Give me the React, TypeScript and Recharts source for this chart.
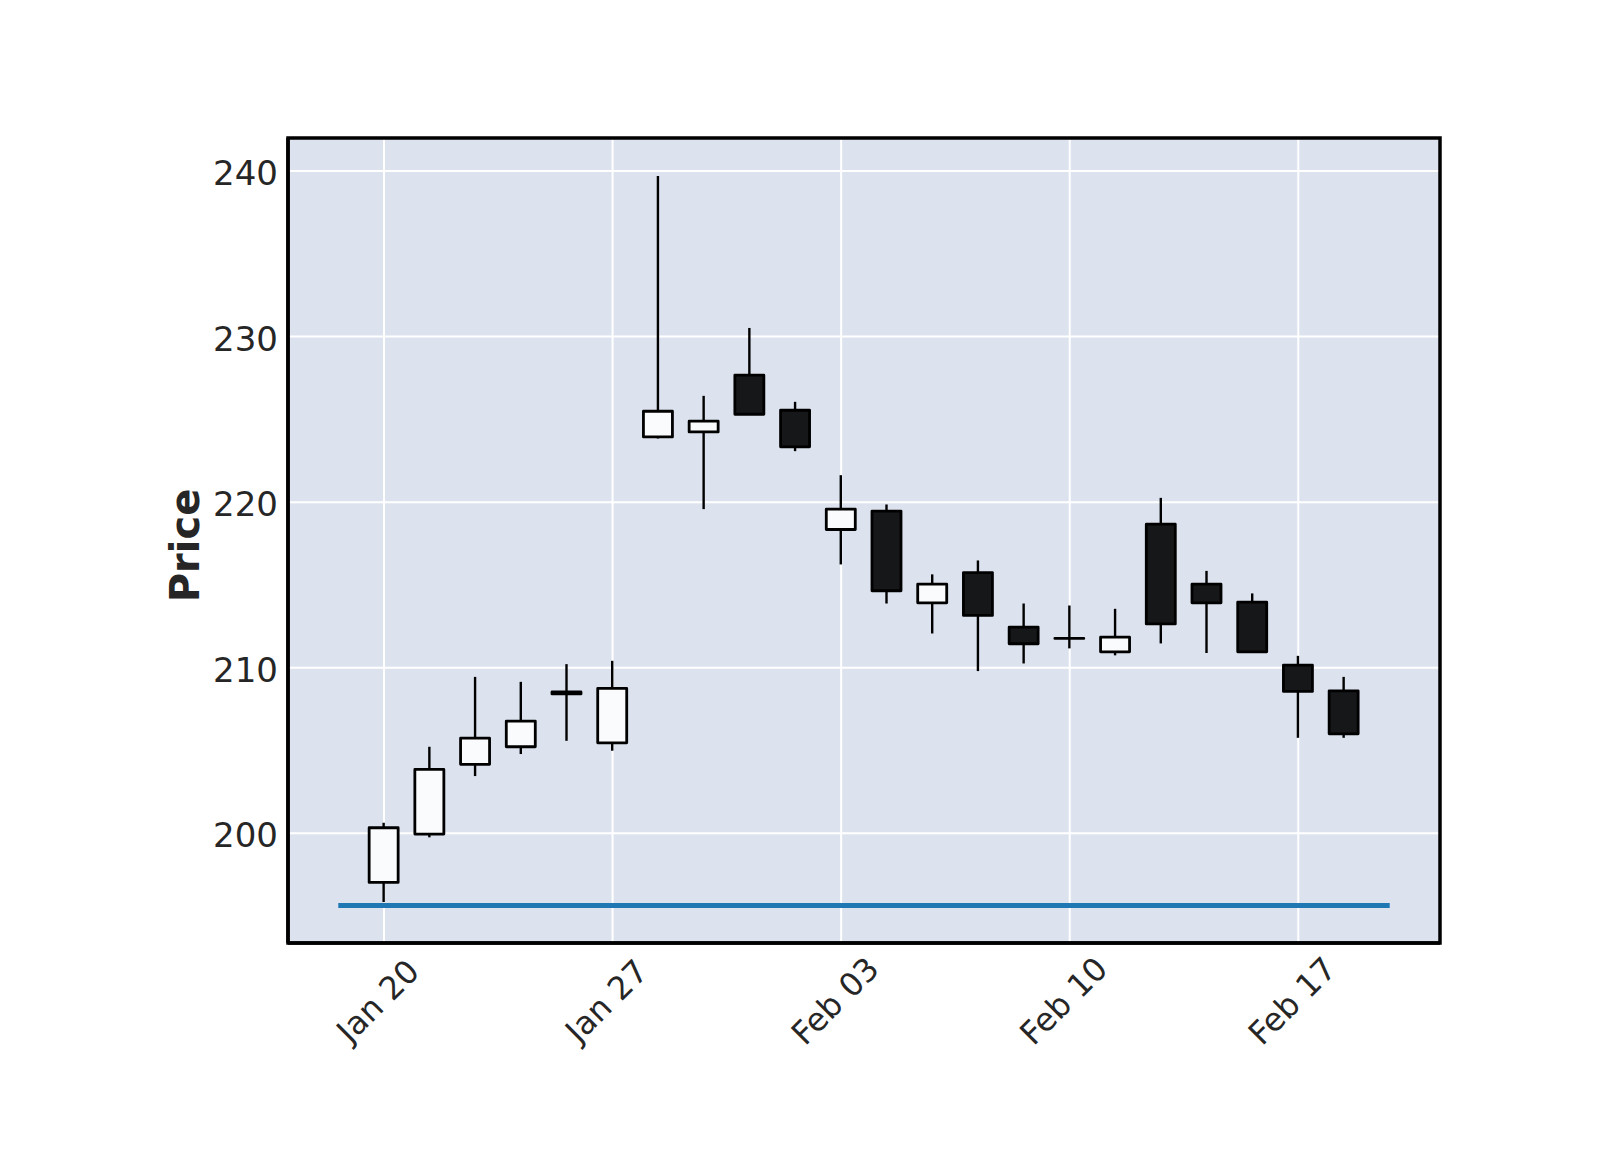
import React from 'react';
import { ComposedChart, Bar, Line, XAxis, YAxis, CartesianGrid, ReferenceArea } from 'recharts';

// Trading days shown
const dates = [
  '2025-01-20', '2025-01-21', '2025-01-22', '2025-01-23', '2025-01-24',
  '2025-01-27', '2025-01-28', '2025-01-29', '2025-01-30', '2025-01-31',
  '2025-02-03', '2025-02-04', '2025-02-05', '2025-02-06', '2025-02-07',
  '2025-02-10', '2025-02-11', '2025-02-12', '2025-02-13', '2025-02-14',
  '2025-02-17', '2025-02-18',
];
const opens = [197.04, 199.96, 204.17, 205.23, 208.54, 205.47, 223.94, 224.24, 227.67, 225.55, 218.35, 219.46, 213.92, 215.75, 212.45, 211.77, 210.96, 218.67, 215.05, 213.96, 210.16, 208.61];
const highs = [200.64, 205.23, 209.45, 209.15, 210.22, 210.42, 239.70, 226.42, 230.52, 226.06, 221.63, 219.86, 215.64, 216.48, 213.88, 213.76, 213.56, 220.26, 215.85, 214.49, 210.72, 209.45];
const lows = [195.85, 199.76, 203.46, 204.79, 205.59, 204.99, 223.84, 219.58, 225.30, 223.08, 216.24, 213.88, 212.07, 209.80, 210.26, 211.17, 210.75, 211.47, 210.89, 210.96, 205.77, 205.77];
const closes = [200.34, 203.86, 205.75, 206.78, 208.42, 208.75, 225.49, 224.89, 225.31, 223.34, 219.58, 214.65, 215.05, 213.16, 211.45, 211.77, 211.85, 212.65, 213.92, 210.96, 208.57, 206.01];

// X ticks (trading-day index) and their labels
const xTickIndex = [0, 5, 10, 15, 20];
const xTickLabels = ['Jan 20', 'Jan 27', 'Feb 03', 'Feb 10', 'Feb 17'];
const yTicks = [200, 210, 220, 230, 240];

// Horizontal blue line
const hlineX = [-1, 22];
const hlineY = [195.64, 195.64];

const xDomain = [-2.1, 23.1];
const yDomain = [193.38, 241.99];

const data = dates.map((d, i) => ({
  idx: i,
  date: d,
  open: opens[i],
  high: highs[i],
  low: lows[i],
  close: closes[i],
  range: [lows[i], highs[i]],
}));
const hlineData = hlineX.map((x, i) => ({ idx: x, v: hlineY[i] }));

const FONT = "'DejaVu Sans', sans-serif";
const TEXT = '#262626';

const Candle = (props: any) => {
  const { x, y, width, height, payload } = props;
  if (x == null || y == null || !payload) return null;
  const top = Math.min(y, y + height);
  const h = Math.abs(height);
  const { open, close, high, low } = payload;
  const toY = (v: number) => top + ((high - v) / (high - low)) * h;
  const cx = x + width / 2;
  const up = close >= open;
  const yO = toY(open);
  const yC = toY(close);
  const bt = Math.min(yO, yC);
  const bb = Math.max(yO, yC);
  return (
    <g>
      <line x1={cx} x2={cx} y1={top} y2={top + h} stroke="#000" strokeWidth={2.4} />
      <path
        d={`M${x},${bt}H${x + width}V${bb}H${x}Z`}
        fill={up ? '#fafbfd' : '#161719'}
        stroke="#000"
        strokeWidth={2.8}
        strokeLinejoin="round"
      />
    </g>
  );
};

const XTick = (props: any) => {
  const { x, y, payload } = props;
  const k = xTickIndex.indexOf(payload.value);
  const label = k >= 0 ? xTickLabels[k] : '';
  const cx = x - 6;
  const cy = y + 50;
  return (
    <text
      x={cx}
      y={cy}
      transform={`rotate(-45 ${cx} ${cy})`}
      textAnchor="middle"
      dominantBaseline="central"
      fontSize={32}
      fontFamily={FONT}
      fill={TEXT}
    >
      {label}
    </text>
  );
};

const YTick = (props: any) => {
  const { x, y, payload } = props;
  return (
    <text
      x={x - 2}
      y={y}
      dy={2}
      textAnchor="end"
      dominantBaseline="central"
      fontSize={34}
      fontFamily={FONT}
      fill={TEXT}
    >
      {payload.value}
    </text>
  );
};

const PriceLabel = (props: any) => {
  const vb = props.viewBox || { x: 188, y: 138, width: 100, height: 805 };
  const lx = vb.x + 11;
  const ly = vb.y + vb.height / 2 + 5;
  return (
    <text
      x={lx}
      y={ly}
      transform={`rotate(-90 ${lx} ${ly})`}
      textAnchor="middle"
      fontSize={40}
      fontWeight="bold"
      fontFamily={FONT}
      fill={TEXT}
    >
      Price
    </text>
  );
};

const frame = { stroke: '#000', strokeWidth: 3.5 };

export default function App() {
  return (
    <div style={{ position: 'absolute', left: 0, top: 0, width: 1600, height: 1150, background: '#fff' }}>
      <ComposedChart
        width={1600}
        height={1150}
        data={data}
        margin={{ top: 138, right: 160, bottom: 150, left: 188 }}
      >
        <CartesianGrid
          xAxisId="x"
          yAxisId="p"
          fill="#DCE3EF"
          stroke="#ffffff"
          strokeWidth={2}
        />
        <XAxis
          xAxisId="x"
          dataKey="idx"
          type="number"
          domain={xDomain}
          allowDataOverflow
          ticks={xTickIndex}
          interval={0}
          height={57}
          tickLine={false}
          axisLine={frame}
          tick={<XTick />}
        />
        <YAxis
          yAxisId="p"
          type="number"
          domain={yDomain}
          allowDataOverflow
          ticks={yTicks}
          interval={0}
          width={100}
          tickLine={false}
          axisLine={frame}
          tick={<YTick />}
          label={{ content: <PriceLabel /> }}
        />
        <Bar
          xAxisId="x"
          yAxisId="p"
          dataKey="range"
          barSize={29}
          shape={<Candle />}
          isAnimationActive={false}
        />
        <Line
          xAxisId="x"
          yAxisId="p"
          data={hlineData}
          dataKey="v"
          stroke="#1f77b4"
          strokeWidth={5}
          dot={false}
          activeDot={false}
          isAnimationActive={false}
        />
        <ReferenceArea
          xAxisId="x"
          yAxisId="p"
          x1={xDomain[0]}
          x2={xDomain[1]}
          y1={yDomain[0]}
          y2={yDomain[1]}
          fill="none"
          fillOpacity={0}
          stroke="#000"
          strokeWidth={3.5}
          ifOverflow="visible"
        />
      </ComposedChart>
    </div>
  );
}
